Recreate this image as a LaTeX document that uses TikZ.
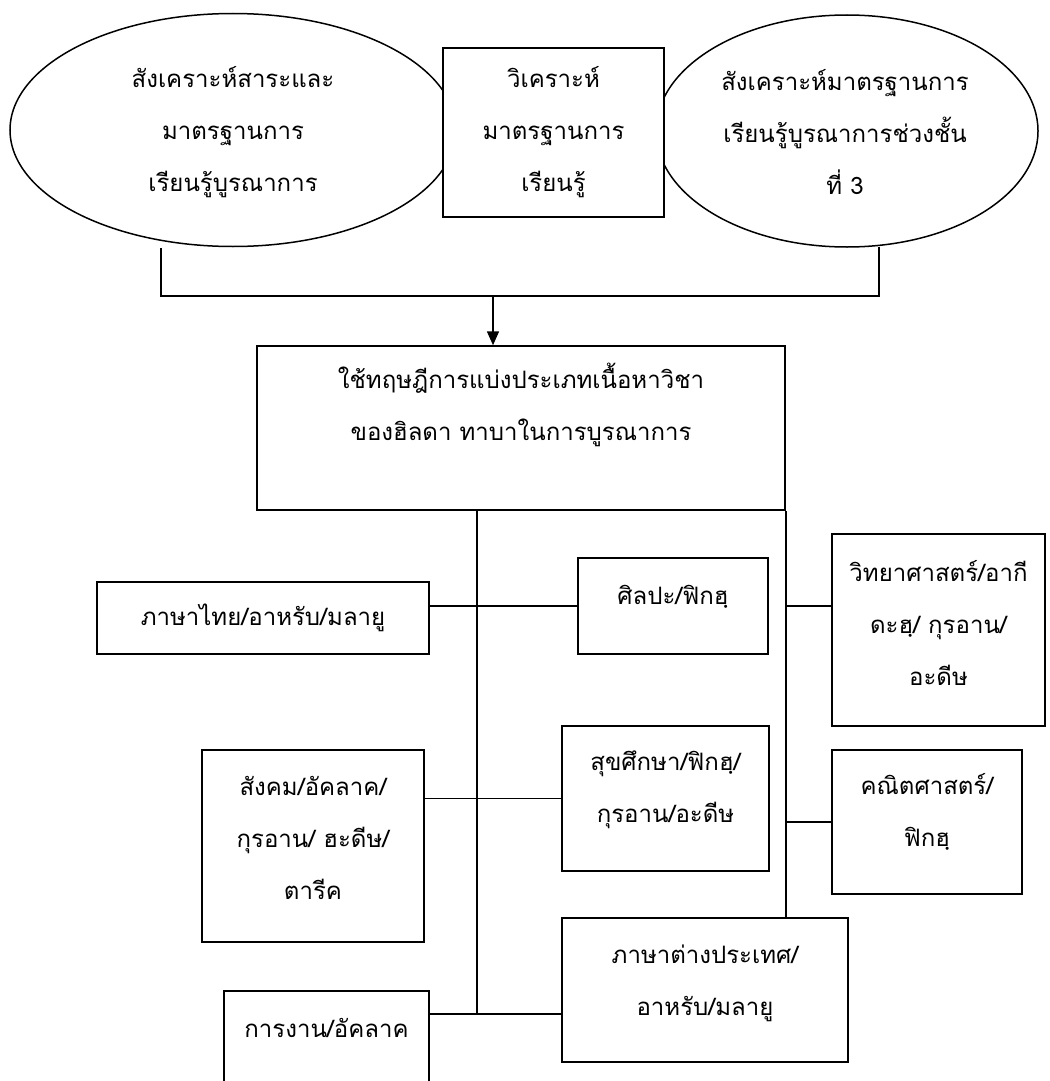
\documentclass[tikz,border=0pt]{standalone}
\usepackage{fontspec}
\newfontfamily\thaifont[Script=Thai]{Loma}
\usetikzlibrary{shapes.geometric,arrows.meta}
\begin{document}
\begin{tikzpicture}[x=1pt,y=-1pt,
  line width=1.5pt,
  box/.style={draw,fill=white,rectangle,inner sep=0pt},
  oval/.style={draw,fill=white,ellipse,inner sep=0pt},
  txt/.style={font=\thaifont\fontsize{24}{52}\selectfont,align=center,inner sep=0pt},
]
\useasboundingbox (0,0) rectangle (1049,1081);
% top row
\node[oval,minimum width=446pt,minimum height=233pt] (el) at (233,130) {};
\node[oval,minimum width=382pt,minimum height=232pt] (er) at (847,131) {};
\node[box,minimum width=221pt,minimum height=169pt] (an) at (553.5,132.5) {};
\node[txt] (tel) at (233,132) {สังเคราะห์สาระและ\\มาตรฐานการ\\เรียนรู้บูรณาการ};
\node[txt] (tan) at (553.5,132) {วิเคราะห์\\มาตรฐานการ\\เรียนรู้};
\node[txt] (ter) at (845,132) {สังเคราะห์มาตรฐานการ\\เรียนรู้บูรณาการช่วงชั้น\\ที่ 3};
% main box
\node[box,minimum width=528pt,minimum height=164pt] (main) at (521,428) {};
\node[txt] (tmain) at (521,405) {ใช้ทฤษฎีการแบ่งประเภทเนื้อหาวิชา\\ของฮิลดา ทาบาในการบูรณาการ};
% joins
\coordinate (ls) at (161,248);
\coordinate (rs) at (879,247);
\coordinate (jn) at (493,296);
\draw (ls) |- (jn) -| (rs);
\draw[-{Triangle[length=14pt,width=12pt]}] (jn) -- (jn |- main.north);
% branch boxes
\node[box,minimum width=332pt,minimum height=72pt] (thai) at (263,618) {};
\node[txt] at (thai) {ภาษาไทย/อาหรับ/มลายู};
\node[box,minimum width=190pt,minimum height=96pt] (silpa) at (673,606) {};
\node[txt] at (673,597) {ศิลปะ/ฟิกฮฺ};
\node[box,minimum width=213pt,minimum height=192pt] (sci) at (938.5,630) {};
\node[txt] at (938.5,623) {วิทยาศาสตร์/อากี\\ดะฮฺ/ กุรอาน/\\อะดีษ};
\node[box,minimum width=222pt,minimum height=192pt] (soc) at (313,846) {};
\node[txt] at (313,838) {สังคม/อัคลาค/\\กุรอาน/ ฮะดีษ/\\ตารีค};
\node[box,minimum width=207pt,minimum height=145pt] (health) at (665.5,798.5) {};
\node[txt] at (665.5,790) {สุขศึกษา/ฟิกฮฺ/\\กุรอาน/อะดีษ};
\node[box,minimum width=190pt,minimum height=144pt] (math) at (927,822) {};
\node[txt] at (927,812) {คณิตศาสตร์/\\ฟิกฮฺ};
\node[box,minimum width=205pt,minimum height=110pt] (work) at (326.5,1046) {};
\node[txt] at (326.5,1028) {การงาน/อัคลาค};
\node[box,minimum width=286pt,minimum height=144pt] (foreign) at (705,990) {};
\node[txt] at (705,983) {ภาษาต่างประเทศ/\\อาหรับ/มลายู};
% trunks
\coordinate (tl) at (477,1014);
\draw (tl |- main.south) -- (tl);
\draw (main.south east) -- (main.south east |- foreign.north);
% branches
\draw (thai.east |- silpa.west) -- (silpa.west);
\draw (main.south east |- silpa.west) -- (sci.west |- silpa.west);
\draw (soc.east |- health.west) -- (health.west);
\draw (main.south east |- math.west) -- (math.west);
\draw (work.east |- tl) -- (foreign.west |- tl);
\end{tikzpicture}
\end{document}
